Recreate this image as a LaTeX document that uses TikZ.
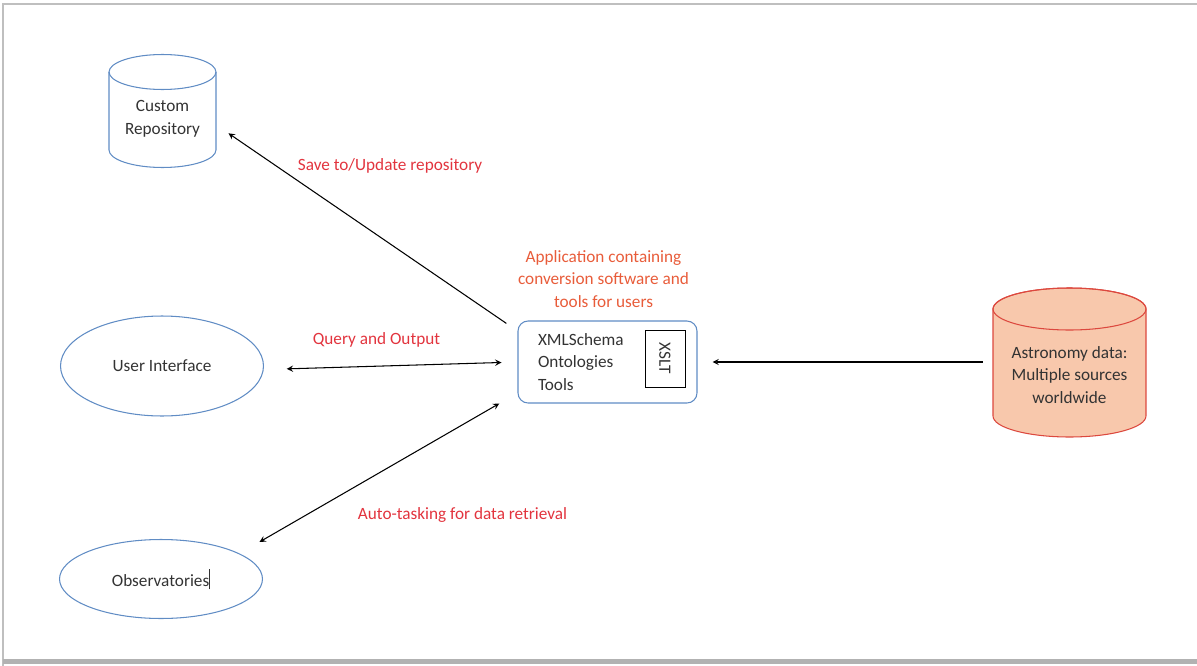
\documentclass[tikz,border=0pt]{standalone}
\usepackage{fontspec}
\setmainfont{Carlito}
\usepackage{tikz}
\usetikzlibrary{positioning}
\usetikzlibrary{arrows}
\usetikzlibrary{shapes.geometric}
\definecolor{outline}{RGB}{96,140,196}
\definecolor{labelred}{RGB}{226,52,62}
\definecolor{labelorange}{RGB}{232,92,58}
\definecolor{peach}{RGB}{248,200,172}
\definecolor{rim}{RGB}{220,72,62}

\begin{document}
\begin{tikzpicture}[
            x = 0.02cm, y = -0.02cm, % pixel grid of the drawing
            > = stealth, % arrow head style
            semithick, % line style
            font = \fontsize{9.8}{13}\selectfont
        ]

        \tikzstyle{every node}=[
            text = black!80
        ]
        \tikzstyle{ellip}=[
            ellipse,
            draw = outline,
            inner sep = 0pt,
            minimum width = 4.06cm
        ]
        \tikzstyle{store}=[
            rectangle,
            align = center,
            inner sep = 0pt
        ]
        \tikzstyle{redlabel}=[
            text = labelred,
            align = center
        ]

        \useasboundingbox (0,0) rectangle (1197,666);

        % page frame
        \draw[black!25] (3,666) -- (3,4) -- (1210,4);
        \fill[black!30] (3,659) rectangle (1210,664);

        % repository
        \draw[outline] (109,72) -- (109,150)
            arc[start angle=180, end angle=360, x radius=1.07cm, y radius=0.35cm] -- (216,72);
        \draw[outline] (162.5,72) ellipse [x radius=1.07cm, y radius=0.35cm];
        \node[store, minimum width=2.14cm, minimum height=1.96cm] (CR) at (162.5,118.5) {Custom\\Repository};

        % data sources
        \filldraw[fill=peach, draw=rim] (993,309) -- (993,416)
            arc[start angle=180, end angle=360, x radius=1.53cm, y radius=0.42cm] -- (1146,309)
            arc[start angle=0, end angle=180, x radius=1.53cm, y radius=0.42cm] -- cycle;
        \draw[rim] (1069.5,309) ellipse [x radius=1.53cm, y radius=0.42cm];
        \node[store, minimum width=3.06cm] (AST) at (1069.5,375) {Astronomy data:\\Multiple sources\\worldwide};

        % application
        \node[rectangle, rounded corners=0.2cm, draw=outline, minimum width=3.58cm, minimum height=1.64cm,
              inner xsep=0.4cm, text width=2.78cm, align=left] (APP) at (607.5,362) {XMLSchema\\Ontologies\\Tools};
        \node[draw=black, thin, rotate=-90, minimum width=1.14cm, minimum height=0.8cm, inner sep=0pt] (XS) at (665,358.5) {XSLT};
        \node[text=labelorange, align=center] (AL) at (603.5,279) {Application containing\\conversion software and\\tools for users};

        % users
        \node[ellip, minimum height=2cm] (UI) at (162,366) {User Interface};
        \node[ellip, minimum height=1.58cm] (OBS) at (161,579) {Observatories\rule[-0.35ex]{0.5pt}{2.5ex}};

        % connectors
        \draw[->, shorten <=0.27cm, shorten >=0.29cm] (APP.161) -- (CR.-7);
        \draw[<->, shorten <=0.46cm, shorten >=0.32cm] (UI.-2) -- (APP.west);
        \draw[<->, shorten <=0.46cm, shorten >=0.42cm] (OBS.18) -- (APP.199);
        \draw[->, shorten <=0.2cm, shorten >=0.3cm] (AST.west |- APP.east) -- (APP.east);

        % labels
        \node[redlabel] (SL) at (390,166) {Save to/Update repository};
        \node[redlabel] (QL) at (376.5,340) {Query and Output};
        \node[redlabel] (TL) at (462.5,515) {Auto-tasking for data retrieval};

  \end{tikzpicture}
\end{document}
